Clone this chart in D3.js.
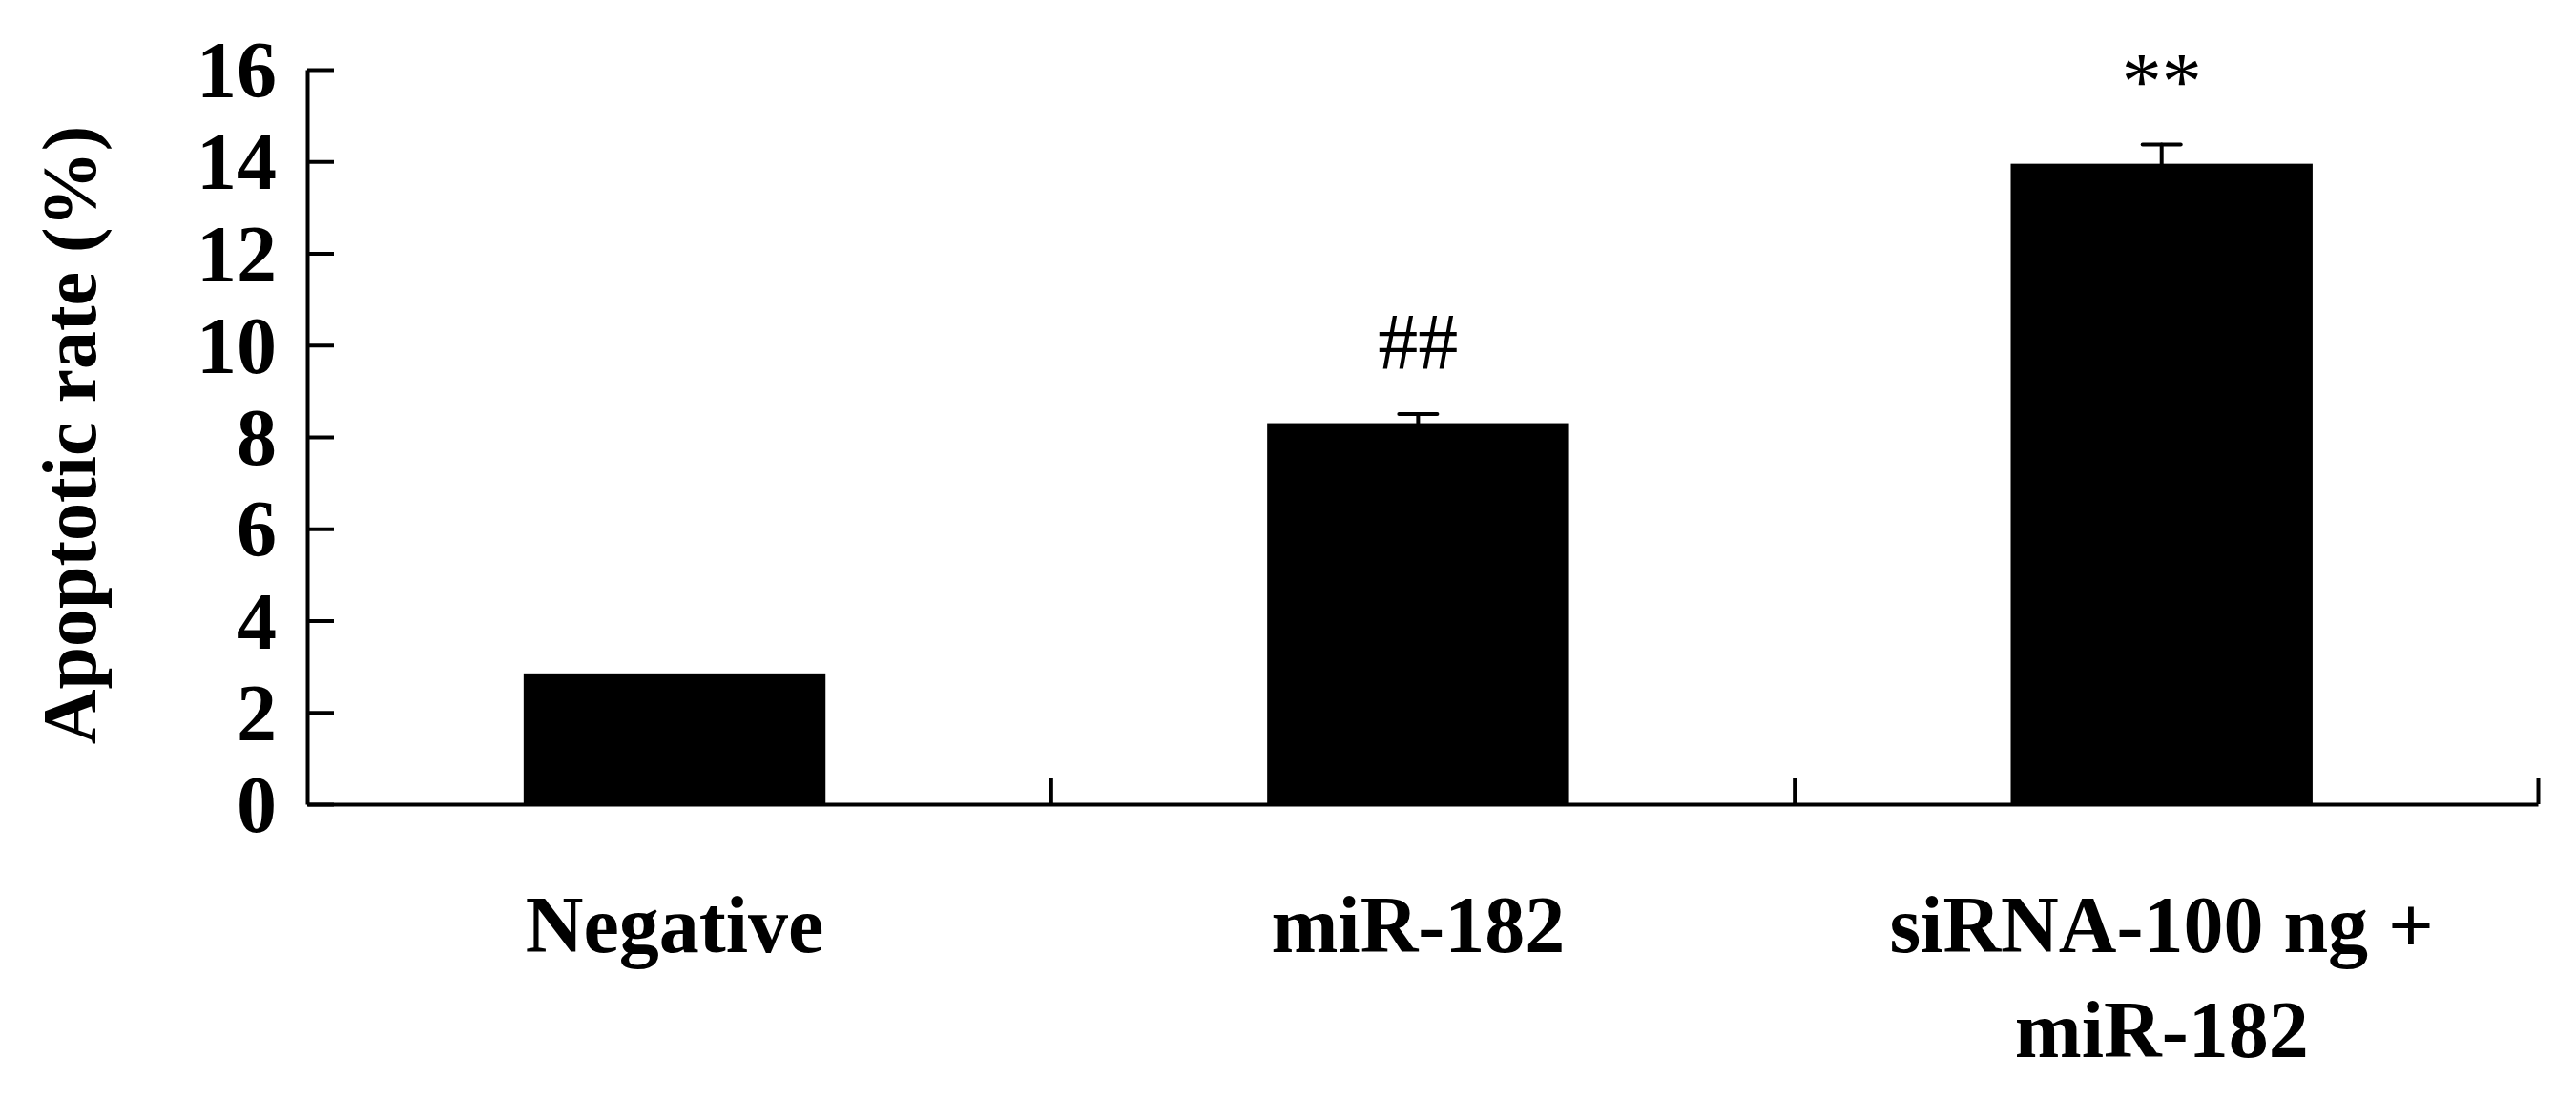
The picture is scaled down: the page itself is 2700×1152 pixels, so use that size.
<!DOCTYPE html>
<html>
<head>
<meta charset="utf-8">
<script src="https://cdn.jsdelivr.net/npm/d3@7"></script>
<style>
  html, body { margin: 0; padding: 0; background: #fff; }
  svg { display: block; }
</style>
</head>
<body>
<script>
// ---- data ----
const categories = ["Negative", "miR-182", "siRNA-100 ng + miR-182"];
const labelLines = [["Negative"], ["miR-182"], ["siRNA-100 ng +", "miR-182"]];
const means = [2.85, 8.3, 13.95];
const errors = [0, 0.2, 0.42];
const marks = ["", "##", "**"];
const yTicks = [0, 2, 4, 6, 8, 10, 12, 14, 16];
const yLabel = "Apoptotic rate (%)";

// ---- layout ----
const W = 2700, H = 1152;
const mLeft = 322, mRight = 2660, mTop = 73, mBottom = 843;
const font = "'Liberation Serif', 'Times New Roman', serif";

const svg = d3.select("body").append("svg")
  .attr("width", W).attr("height", H)
  .attr("viewBox", `0 0 ${W} ${H}`);
svg.append("rect").attr("width", W).attr("height", H).attr("fill", "#fff");

const y = d3.scaleLinear().domain([0, 16]).range([mBottom, mTop]);
const x = d3.scaleBand().domain(categories).range([mLeft, mRight])
  .paddingInner(0.594).paddingOuter(0.297).align(0.49);
const xEdge = d3.scaleLinear().domain([0, categories.length]).range([mLeft, mRight]);
const xCenter = d3.scaleBand().domain(categories).range([mLeft, mRight]).padding(0);

// bars
svg.append("g").selectAll("rect").data(categories).join("rect")
  .attr("x", d => x(d))
  .attr("y", (d, i) => y(means[i]))
  .attr("width", x.bandwidth())
  .attr("height", (d, i) => y(0) - y(means[i]))
  .attr("fill", "#000");

// error bars (upper only)
const capW = 40;
const eb = svg.append("g").attr("stroke", "#000").attr("stroke-width", 4).attr("stroke-linecap", "round");
categories.forEach((c, i) => {
  if (!errors[i]) return;
  const cx = x(c) + x.bandwidth() / 2;
  eb.append("line").attr("x1", cx).attr("x2", cx)
    .attr("y1", y(means[i])).attr("y2", y(means[i] + errors[i]));
  eb.append("line").attr("x1", cx - capW / 2).attr("x2", cx + capW / 2)
    .attr("y1", y(means[i] + errors[i])).attr("y2", y(means[i] + errors[i]));
});

// significance marks
svg.append("g").selectAll("text").data(categories).join("text")
  .attr("x", d => x(d) + x.bandwidth() / 2)
  .attr("y", (d, i) => y(means[i] + errors[i]) - (marks[i] === "**" ? 37 : 47))
  .attr("text-anchor", "middle")
  .attr("font-family", font)
  .attr("font-size", 84)
  .attr("fill", "#000")
  .text((d, i) => marks[i]);

// y axis
const yAxis = d3.axisLeft(y).tickValues(yTicks)
  .tickSizeInner(-28).tickSizeOuter(0).tickPadding(32)
  .tickFormat(d3.format("d"));
const gy = svg.append("g").attr("transform", `translate(${mLeft},0)`).call(yAxis);
gy.select(".domain").attr("stroke-width", 4).attr("stroke", "#000");
gy.selectAll(".tick line").attr("stroke-width", 4).attr("stroke", "#000");
gy.selectAll(".tick text")
  .attr("font-family", font).attr("font-weight", "bold")
  .attr("font-size", 84).attr("fill", "#000").attr("dy", "0.34em");

// x axis: baseline with ticks at category boundaries
const xAxis = d3.axisBottom(xEdge).tickValues([1, 2, 3])
  .tickSizeInner(-27).tickSizeOuter(0).tickFormat("");
const gx = svg.append("g").attr("transform", `translate(0,${mBottom})`).call(xAxis);
gx.select(".domain").attr("stroke-width", 4).attr("stroke", "#000");
gx.selectAll(".tick line").attr("stroke-width", 4).attr("stroke", "#000");

// category labels
const lab = svg.append("g")
  .attr("font-family", font).attr("font-weight", "bold")
  .attr("font-size", 84).attr("fill", "#000").attr("text-anchor", "middle");
categories.forEach((c, i) => {
  const cx = x(c) + x.bandwidth() / 2;
  const t = lab.append("text").attr("x", cx).attr("y", 998);
  labelLines[i].forEach((ln, j) => {
    t.append("tspan").attr("x", cx)
      .attr("dy", j === 0 ? 0 : 110).text(ln);
  });
});

// y-axis title
svg.append("text")
  .attr("transform", `translate(100,${(mTop + mBottom) / 2 - 2}) rotate(-90)`)
  .attr("text-anchor", "middle")
  .attr("font-family", font).attr("font-weight", "bold")
  .attr("font-size", 80).attr("fill", "#000")
  .text(yLabel);
</script>
</body>
</html>
